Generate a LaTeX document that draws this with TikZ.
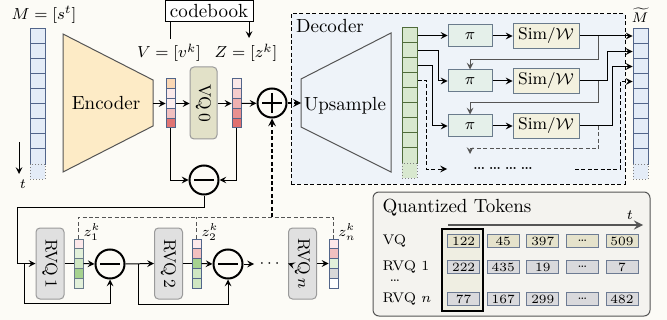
\documentclass[tikz,border=0pt]{standalone}
\usepackage{amsmath,amssymb}
\usepackage{graphicx}
\usepackage{tikz}
\definecolor{bgcol}{HTML}{FCFBF6}
\definecolor{mfill}{HTML}{E4ECF7}
\definecolor{mline}{HTML}{52658A}
\definecolor{encfill}{HTML}{FDEBC6}
\definecolor{vqfill}{HTML}{E2E1C8}
\definecolor{rvqfill}{HTML}{E0E0E0}
\definecolor{boxline}{HTML}{9A9A9A}
\definecolor{decfill}{HTML}{EEF3F9}
\definecolor{gfill}{HTML}{D8E8CF}
\definecolor{gline}{HTML}{4F6B3A}
\definecolor{tline}{HTML}{6A7B8C}
\definecolor{pifill}{HTML}{E5F0EA}
\definecolor{simfill}{HTML}{F3F1DF}
\definecolor{qtfill}{HTML}{F4F3EF}
\definecolor{tokline}{HTML}{6D7B93}
\definecolor{tokgray}{HTML}{D9D9DC}
\definecolor{tokolive}{HTML}{E5E2CB}
\definecolor{hlfill}{HTML}{EFEEE2}
\definecolor{tgray}{HTML}{555555}
\definecolor{vA}{HTML}{FAD7B4}
\definecolor{vB}{HTML}{FBEAEA}
\definecolor{vC}{HTML}{FBEEEE}
\definecolor{vD}{HTML}{F1C0C0}
\definecolor{vE}{HTML}{E07474}
\definecolor{zA}{HTML}{FBE8E8}
\definecolor{zB}{HTML}{F5CCCC}
\definecolor{zC}{HTML}{EFB0B0}
\definecolor{zD}{HTML}{E89090}
\definecolor{zE}{HTML}{E07070}
\definecolor{rA}{HTML}{FCE8EA}
\definecolor{rB}{HTML}{E2F0DA}
\definecolor{rC}{HTML}{CFE6C2}
\definecolor{rD}{HTML}{A6D28F}
\definecolor{rE}{HTML}{F2C0C0}
\definecolor{rF}{HTML}{D8D8D8}
\newcommand{\szA}{\fontsize{9.5}{11}\selectfont}
\newcommand{\szB}{\fontsize{8.5}{10}\selectfont}
\newcommand{\szC}{\fontsize{7}{8}\selectfont}
\newcommand{\szD}{\fontsize{6.3}{7}\selectfont}

\begin{document}
\begin{tikzpicture}[x=0.5pt,y=-0.5pt,line width=0.5pt,
    mcell/.style={draw=mline,fill=mfill,minimum width=7.5pt,minimum height=7.5pt,inner sep=0pt},
    gcell/.style={draw=gline,fill=gfill,minimum width=7.5pt,minimum height=7.5pt,inner sep=0pt},
    qcell/.style={draw=mline,minimum width=4.5pt,minimum height=4.9pt,inner sep=0pt},
    vqbox/.style={draw=boxline,rounded corners=2pt,minimum width=14pt,minimum height=35.5pt,inner sep=0pt,font=\szB},
    op/.style={draw,circle,line width=1pt,minimum size=14.5pt,inner sep=0pt},
    pibox/.style={draw=tline,fill=pifill,minimum width=22pt,minimum height=11pt,inner sep=0pt,font=\szB},
    simbox/.style={draw=tline,fill=simfill,minimum width=33pt,minimum height=12.5pt,inner sep=0pt,font=\szB},
    tok/.style={draw=tokline,fill=tokgray,minimum width=16pt,minimum height=6.5pt,inner sep=0pt,font=\szD},
    rowlab/.style={anchor=west,inner sep=0pt,font=\szC},
    fade/.style={densely dotted,draw=gray},
    dsh/.style={dash pattern=on 2pt off 1.2pt},
  ]
  \fill[bgcol] (0,0) rectangle (667,320);
  \useasboundingbox (0,0) rectangle (667,320);

  % input mel frames
  \node[font=\szB] (mlab) at (44,15) {$M=[s^t]$};
  \foreach \i in {1,...,9}
    \node[mcell] (m\i) at (37.5,{21.5+15*\i}) {};
  \node[mcell,fade] (m10) at (37.5,171.5) {};
  \coordinate (ta) at (19,142);
  \coordinate (tb) at (19,174);
  \draw[-stealth] (ta) -- (tb);
  \node[font=\szC] (tlab) at (23,184) {$t$};

  % encoder
  \coordinate (e1) at (63,34);
  \coordinate (e2) at (153,80);
  \coordinate (e3) at (153,126);
  \coordinate (e4) at (63,172);
  \draw[draw=tgray,fill=encfill] (e1) -- (e2) -- (e3) -- (e4) -- cycle;
  \node[font=\szA] (enc) at (106,103) {Encoder};
  \coordinate (encout) at (153,103.5);

  % V and Z columns
  \foreach \c [count=\i] in {vA,vB,vC,vD,vE}
    \node[qcell,fill=\c] (v\i) at (170.5,{74.1+9.8*\i}) {};
  \foreach \c [count=\i] in {zA,zB,zC,zD,zE}
    \node[qcell,fill=\c] (z\i) at (236.5,{74.1+9.8*\i}) {};
  \node[font=\szB] (vlab) at (169,53) {$V=[v^k]$};
  \node[font=\szB] (zlab) at (246,53) {$Z=[z^k]$};

  \node[vqbox,fill=vqfill,minimum width=13.5pt,minimum height=36pt] (vq0) at (203.5,103) {\rotatebox{-90}{VQ\,0}};

  % codebook
  \node[draw,fill=white,minimum width=44pt,minimum height=10.5pt,inner sep=0pt,font=\szA] (cb) at (209,11.5) {codebook};
  \coordinate (cbv) at (170,39);
  \coordinate (cbz) at (249,38);
  \draw (cb.south -| cbv) -- (cbv);
  \draw[-stealth] (cb.south -| cbz) -- (cbz);

  \draw[-stealth] (encout) -- (v3.west);
  \draw[-stealth] (v3.east) -- (v3.east -| vq0.west);
  \draw[-stealth] (vq0.east |- z3.west) -- (z3.west);

  % plus and minus
  \node[op] (plus) at (272,103) {};
  \draw[line width=1pt] ([shift={(-10,0)}]plus.center) -- ([shift={(10,0)}]plus.center);
  \draw[line width=1pt] ([shift={(0,-10)}]plus.center) -- ([shift={(0,10)}]plus.center);
  \draw[-stealth] (z3.east) -- (plus);

  \node[op] (mn0) at (204,180) {};
  \draw[line width=1pt] ([shift={(-10,0)}]mn0.center) -- ([shift={(10,0)}]mn0.center);
  \draw[-stealth] (v5.south) |- (mn0.west);
  \draw[-stealth] (z5.south) |- (mn0.east);

  % residual quantizers
  \node[vqbox,fill=rvqfill] (rvq1) at (50,263.5) {\rotatebox{-90}{RVQ\,1}};
  \node[vqbox,fill=rvqfill] (rvq2) at (168.5,263.5) {\rotatebox{-90}{RVQ\,2}};
  \node[vqbox,fill=rvqfill] (rvqn) at (302.5,263.5) {\rotatebox{-90}{RVQ\,$n$}};

  \foreach \c [count=\i] in {rA,rB,rC,rD,rB}
    \node[qcell,draw=tline,fill=\c] (za\i) at (78.5,{234.1+9.8*\i}) {};
  \foreach \c [count=\i] in {rA,rE,rD,rC,rC}
    \node[qcell,draw=mline,fill=\c] (zb\i) at (196.5,{234.1+9.8*\i}) {};
  \foreach \c [count=\i] in {rA,rE,rB,rF,white}
    \node[qcell,draw=mline,fill=\c] (zn\i) at (333.5,{234.1+9.8*\i}) {};
  \node[font=\szC] (zalab) at (92,232) {$z_1^k$};
  \node[font=\szC] (zblab) at (210,232) {$z_2^k$};
  \node[font=\szC] (znlab) at (347,232) {$z_n^k$};

  \node[op] (mn1) at (110,264) {};
  \draw[line width=1pt] ([shift={(-10,0)}]mn1.center) -- ([shift={(10,0)}]mn1.center);
  \node[op] (mn2) at (228,264) {};
  \draw[line width=1pt] ([shift={(-10,0)}]mn2.center) -- ([shift={(10,0)}]mn2.center);

  \coordinate (inl) at (17,263.5);
  \coordinate (br1) at (24,263.5);
  \coordinate (br2) at (138,264);
  \coordinate (dota) at (254,264);
  \node[font=\szB] (rdots) at (271,264) {$\cdots$};

  \draw[-stealth] (mn0.south) -- ++(0,12) -| (inl) -- (rvq1.west);
  \draw[-stealth] (br1) -- ++(0,40) -| (mn1.south);
  \draw (rvq1.east) -- (za3.west);
  \draw[-stealth] (za3.east) -- (mn1.west);
  \draw[-stealth] (mn1.east) -- (rvq2.west);
  \draw[-stealth] (br2) -- ++(0,40) -| (mn2.south);
  \draw (rvq2.east) -- (zb3.west);
  \draw[-stealth] (zb3.east) -- (mn2.west);
  \draw[-stealth] (mn2.east) -- (dota);
  \draw[-stealth] (rdots.east) -- (rvqn.west);
  \draw[-stealth] (rvqn.east) -- (zn3.west);

  \coordinate (dtop) at (272,217);
  \draw[dsh,draw=tgray] (za1.north) -- (za1.north |- dtop) -- (zn1.north |- dtop) -- (zn1.north);
  \draw[dsh,draw=tgray] (zb1.north) -- (zb1.north |- dtop);
  \draw[dsh,-stealth,line width=0.7pt] (dtop) -- (plus.south);

  % decoder
  \node[draw,dsh,fill=decfill,minimum width=167pt,minimum height=85pt,inner sep=0pt] (dec) at (458,99) {};
  \node[font=\szA] (declab) at (330,26) {Decoder};
  \coordinate (u1) at (301,79);
  \coordinate (u2) at (391,33);
  \coordinate (u3) at (391,172);
  \coordinate (u4) at (301,127);
  \draw[draw=tgray,fill=decfill] (u1) -- (u2) -- (u3) -- (u4) -- cycle;
  \node[font=\szA] (ups) at (345,106) {Upsample};
  \draw[dsh,-stealth,line width=0.7pt] (plus.east) -- (u1 |- plus.east);

  \foreach \i in {1,...,9}
    \node[gcell] (g\i) at (409.5,{20.5+15*\i}) {};
  \node[gcell,fade] (g10) at (409.5,170.5) {};

  \foreach \i/\y in {1/36,2/81,3/126}{
    \node[pibox] (p\i) at (470,\y) {$\pi$};
    \node[simbox] (s\i) at (546,\y) {Sim$/\mathcal{W}$};
    \draw[-stealth] (p\i.east) -- (s\i.west);
  }

  \foreach \i in {1,...,9}
    \node[mcell] (mt\i) at (640.5,{21.5+15*\i}) {};
  \node[mcell,fade] (mt10) at (640.5,171.5) {};
  \node[font=\szC] (mtlab) at (640,15) {$\widetilde{M}$};

  \coordinate (dl) at (447,169);
  \coordinate (dr) at (575,169);
  \coordinate (fbend) at (470,154);
  \node[font=\szA] (ddots) at (503,168) {\dots\,\dots\,\dots\,\dots};

  \draw[-stealth] (g1.east) -- (g1.east -| p1.west);
  \draw[-stealth] (g2.east) -- ++(21,0) |- (p2.west);
  \draw[-stealth] (g3.east) -- ++(15,0) |- (p3.west);
  \draw[dsh,-stealth] (g4.east) -- ++(9,0) |- (dl);

  \draw[-stealth] (s1.east) -- (s1.east -| mt1.west);
  \draw[-stealth] (s2.east) -- ++(28,0) |- (mt2.west);
  \draw[-stealth] (s3.east) -- ++(33,0) |- (mt3.west);
  \draw[dsh,-stealth] (dr) -- ++(45,0) |- (mt4.west);

  \draw[-stealth,draw=tgray] (s1.east) ++(19,0) -- ++(0,24) -| (p2.north);
  \draw[-stealth,draw=tgray] (s2.east) ++(19,0) -- ++(0,22) -| (p3.north);
  \draw[dsh,-stealth,draw=tgray] (s3.east) ++(19,0) -- ++(0,23) -| (fbend);

  % quantized tokens
  \node[draw=tgray,fill=qtfill,rounded corners=3pt,minimum width=138.5pt,minimum height=62pt,inner sep=0pt] (qt) at (511.5,254) {};
  \node[anchor=west,inner sep=0pt,font=\szA] (qtt) at (382,208) {Quantized Tokens};
  \coordinate (qa) at (448,225);
  \coordinate (qb) at (643,225);
  \draw[-stealth,line width=1pt,draw=tgray] (qa) -- (qb);
  \node[font=\szC] (qtl) at (630,215) {$t$};

  \node[draw=black,line width=1pt,fill=hlfill,minimum width=20.5pt,minimum height=41pt,inner sep=0pt] (hl) at (462.5,270) {};

  \node[rowlab] (rl1) at (382,241) {VQ};
  \node[rowlab] (rl2) at (382,267) {RVQ 1};
  \node[font=\szC] (rl3) at (395,281) {\dots};
  \node[rowlab] (rl4) at (382,299) {RVQ $n$};

  \foreach \v [count=\j] in {122,45,397,\dots,509}
    \node[tok,fill=tokolive] (ta\j) at ({424+39.6*\j},241) {\v};
  \foreach \v [count=\j] in {222,435,19,\dots,7}
    \node[tok] (tb\j) at ({424+39.6*\j},267) {\v};
  \foreach \v [count=\j] in {77,167,299,\dots,482}
    \node[tok] (tc\j) at ({424+39.6*\j},299) {\v};
\end{tikzpicture}
\end{document}
